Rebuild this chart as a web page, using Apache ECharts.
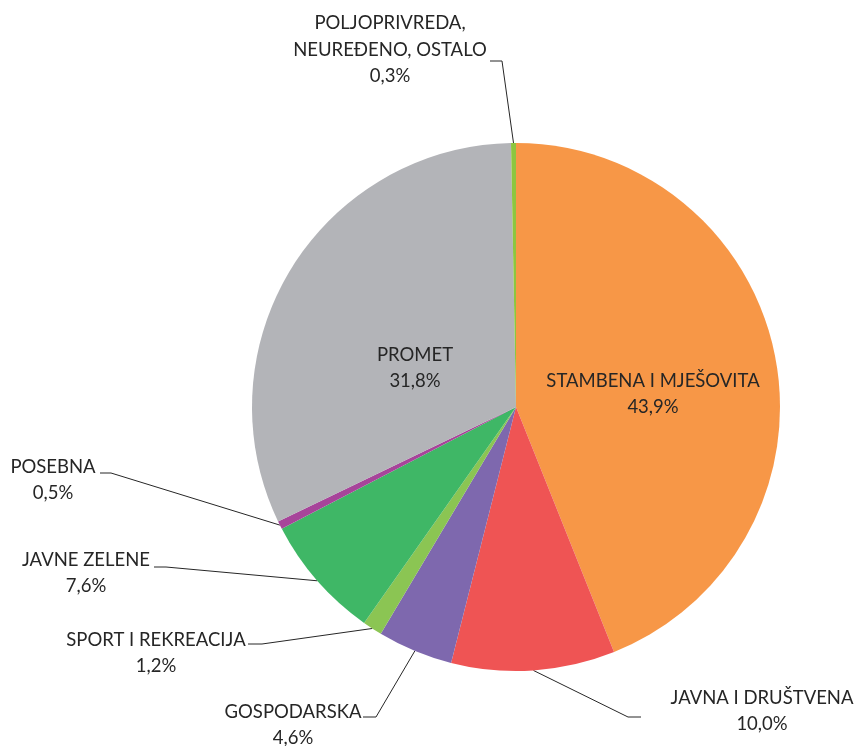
<!DOCTYPE html>
<html>
<head>
<meta charset="utf-8">
<script src="https://cdn.jsdelivr.net/npm/echarts@6/dist/echarts.min.js"></script>
<style>
  html, body { margin: 0; padding: 0; background: #fff; }
  #chart { width: 857px; height: 746px; }
</style>
</head>
<body>
<div id="chart"></div>
<script>
// Land-use shares (%) — clockwise from 12 o'clock
const categories = [
  'STAMBENA I MJEŠOVITA',
  'JAVNA I DRUŠTVENA',
  'GOSPODARSKA',
  'SPORT I REKREACIJA',
  'JAVNE ZELENE',
  'POSEBNA',
  'PROMET',
  'POLJOPRIVREDA,\nNEUREĐENO, OSTALO'
];
const shares = [43.9, 10.0, 4.6, 1.2, 7.6, 0.5, 31.8, 0.3];
const colors = ['#F79747', '#EF5454', '#7E68AE', '#8BC553', '#3FB766', '#A7449A', '#B3B4B8', '#8DC63F'];

// Label placement: centre of the text block, plus leader-line hook (end near text, kink)
const labelSpots = [
  { x: 653, y: 394, inside: true },
  { x: 762, y: 711, end: [641, 717], kink: [628, 717] },
  { x: 293, y: 725, end: [363, 717], kink: [376, 717] },
  { x: 156, y: 653, end: [248, 644], kink: [262, 644] },
  { x: 86,  y: 573, end: [154, 567], kink: [166, 567] },
  { x: 53,  y: 480, end: [100, 473], kink: [111, 473] },
  { x: 415, y: 368, inside: true },
  { x: 390, y: 50,  end: [490, 61],  kink: [502, 61] }
];

const fmt = v => v.toFixed(1).replace('.', ',') + '%';

const chart = echarts.init(document.getElementById('chart'));
chart.setOption({
  animation: false,
  series: [{
    type: 'pie',
    center: [516, 407],
    radius: 264,
    startAngle: 90,
    clockwise: true,
    avoidLabelOverlap: false,
    itemStyle: { borderWidth: 0 },
    label: {
      show: true,
      position: 'outside',
      formatter: p => p.name + '\n' + fmt(p.value),
      fontFamily: 'Lato',
      fontSize: 18.5,
      lineHeight: 26.5,
      color: '#262626',
      align: 'center'
    },
    labelLine: {
      show: true,
      lineStyle: { color: '#262626', width: 1 }
    },
    labelLayout: function (p) {
      const s = labelSpots[p.dataIndex];
      const out = { x: s.x, y: s.y, align: 'center', verticalAlign: 'middle' };
      if (!s.inside && p.labelLinePoints) {
        out.labelLinePoints = [p.labelLinePoints[0], s.kink, s.end];
      }
      return out;
    },
    data: categories.map((name, i) => {
      const item = { name: name, value: shares[i], itemStyle: { color: colors[i] } };
      if (labelSpots[i].inside) {
        item.label = { position: 'inside' };
        item.labelLine = { show: false };
      }
      return item;
    })
  }]
});
</script>
</body>
</html>
